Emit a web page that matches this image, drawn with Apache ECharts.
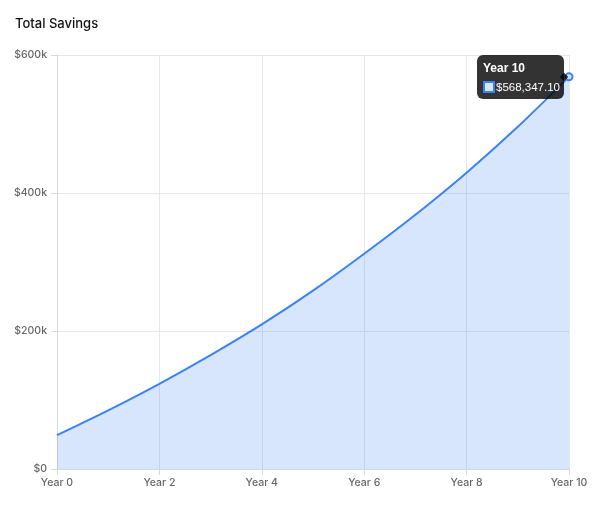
<!DOCTYPE html>
<html lang="en">
  <head>
    <meta charset="UTF-8" />
    <title>Total Savings</title>
    <style>
      html, body { margin: 0; padding: 0; background: #fff; }
      #main { width: 607px; height: 519px; }
    </style>
  </head>
  <body>
    <div id="main"></div>
    <script src="https://cdn.jsdelivr.net/npm/echarts@6/dist/echarts.min.js"></script>
    <script>
      // values
      var years = ["Year 0", "Year 1", "Year 2", "Year 3", "Year 4", "Year 5",
                   "Year 6", "Year 7", "Year 8", "Year 9", "Year 10"];
      var savings = [49000, 85000, 123500, 165000, 209500, 258500,
                     312000, 368500, 429500, 496000, 568347.1];
      var yTicks = [0, 200000, 400000, 600000];

      var blue = "rgb(59,130,246)";
      var font = "Inter, 'Noto Sans', sans-serif";

      function money(v) {
        return "$" + v.toLocaleString("en-US", { minimumFractionDigits: 2, maximumFractionDigits: 2 });
      }

      var myChart = echarts.init(document.getElementById("main"));
      var last = savings.length - 1;

      var option = {
        animation: false,
        title: {
          text: "Total Savings",
          left: 10,
          top: 13,
          textStyle: { fontFamily: font, fontSize: 13, fontWeight: 500, color: "#111" },
        },
        grid: { left: 57, right: 38, top: 55, bottom: 50 },
        tooltip: {
          trigger: "item",
          position: "left",
          confine: false,
          backgroundColor: "rgba(0,0,0,0.8)",
          borderWidth: 0,
          padding: [6, 4, 5, 6],
          extraCssText: "border-radius:6px;box-shadow:none;margin-left:7px;",
          formatter: function (p) {
            return '<div style="font:bold 12px Arial,sans-serif;line-height:14px;color:#fff;margin-bottom:5px">' + p.name + "</div>" +
              '<div style="font:11.5px Arial,sans-serif;line-height:14px;color:#fff;display:flex;align-items:center">' +
              '<span style="display:inline-block;width:8px;height:8px;background:#d8e6fd;border:2px solid ' + blue + ';margin-right:1px"></span>' +
              money(p.value) + "</div>";
          },
        },
        xAxis: {
          type: "category",
          data: years,
          boundaryGap: false,
          axisLine: { lineStyle: { color: "#d9d9d9" } },
          axisTick: { show: true, interval: 1, length: 6, lineStyle: { color: "#d9d9d9" } },
          splitLine: { show: true, interval: 1, lineStyle: { color: "#e8e8e8" } },
          axisLabel: { interval: 1, color: "#666", fontFamily: font, fontSize: 10.5, fontWeight: 500, margin: 8 },
        },
        yAxis: {
          type: "value",
          min: yTicks[0],
          max: yTicks[yTicks.length - 1],
          interval: yTicks[1] - yTicks[0],
          axisLine: { show: true, lineStyle: { color: "#d9d9d9" } },
          axisTick: { show: true, length: 6, lineStyle: { color: "#d9d9d9" } },
          splitLine: { lineStyle: { color: "#e8e8e8" } },
          axisLabel: {
            color: "#666",
            fontFamily: font,
            fontSize: 10.5,
            fontWeight: 500,
            margin: 10,
            formatter: function (v) {
              return v === 0 ? "$0" : "$" + v / 1000 + "k";
            },
          },
        },
        series: [
          {
            type: "line",
            data: savings,
            smooth: 0.3,
            symbol: "circle",
            symbolSize: function (v, p) {
              return p.dataIndex === last ? 7 : 0;
            },
            itemStyle: { color: "#d8e6fd", borderColor: blue, borderWidth: 2 },
            lineStyle: { color: blue, width: 2 },
            areaStyle: { color: blue, opacity: 0.2 },
            emphasis: { disabled: true },
          },
        ],
      };

      myChart.setOption(option);
      myChart.dispatchAction({ type: "showTip", seriesIndex: 0, dataIndex: last });
    </script>
  </body>
</html>
